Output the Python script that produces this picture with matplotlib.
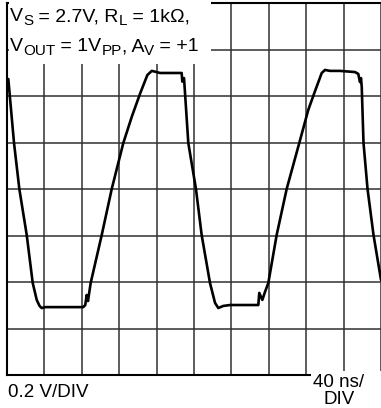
import matplotlib
matplotlib.use('Agg')
import matplotlib.pyplot as plt
from matplotlib.patches import Rectangle

plt.rcParams['font.family'] = ['Liberation Sans', 'DejaVu Sans']

# Trace de salida: tiempo (ns) y tension (V), 40 ns/DIV y 0.2 V/DIV
tiempo_ns = [1.4, 7.5, 13.2, 21.1, 27.5, 31.8, 34.8, 37.1, 40.6, 46.0,
             81.6, 83.7, 85.2, 86.6, 89.5, 101.3, 112.0, 124.4, 133.4, 142.2,
             150.1, 154.8, 160.1, 163.6, 186.8, 187.5, 189.3, 190.4, 193.9, 202.1,
             208.2, 217.1, 222.5, 226.0, 231.3, 238.5, 268.8, 269.8, 273.1, 275.9,
             279.5, 288.4, 299.1, 312.6, 322.2, 328.7, 336.6, 340.1, 345.5, 356.1,
             372.2, 375.7, 377.5, 378.6, 379.4, 381.3, 385.6, 392.0, 400.0]
tension_v = [0.473, 0.198, 0.000, -0.198, -0.404, -0.477, -0.503, -0.512, -0.508, -0.508,
             -0.508, -0.499, -0.456, -0.482, -0.404, -0.198, 0.000, 0.198, 0.310, 0.409,
             0.490, 0.508, 0.503, 0.499, 0.499, 0.462, 0.477, 0.413, 0.198, 0.000,
             -0.198, -0.404, -0.490, -0.512, -0.503, -0.499, -0.499, -0.447, -0.477, -0.443,
             -0.404, -0.198, 0.000, 0.198, 0.340, 0.413, 0.499, 0.512, 0.508, 0.508,
             0.503, 0.495, 0.460, 0.477, 0.439, 0.198, 0.000, -0.198, -0.391]

divisiones_x = [0, 40, 80, 120, 160, 200, 240, 280, 320, 360, 400]
divisiones_y = [-0.8, -0.6, -0.4, -0.2, 0.0, 0.2, 0.4, 0.6, 0.8]

# condiciones de prueba: (texto, es_subindice)
linea_1 = [('V', False), ('S', True), (' = 2.7V, R', False), ('L', True), (' = 1k\u03a9,', False)]
linea_2 = [('V', False), ('OUT', True), (' = 1V', False), ('PP', True), (', A', False),
           ('V', True), (' = +1', False)]

W, H = 381, 408
fig = plt.figure(figsize=(W / 100, H / 100), dpi=100)
ax = fig.add_axes([7 / W, (H - 375) / H, (W - 7) / W, 372 / H])

ax.plot(tiempo_ns, tension_v, color='black', linewidth=1.9,
        solid_joinstyle='round', solid_capstyle='round', zorder=2)

ax.set_xlim(0, 400)
ax.set_ylim(-0.8, 0.8)
ax.set_xticks(divisiones_x)
ax.set_yticks(divisiones_y)
ax.tick_params(length=0, labelbottom=False, labelleft=False)
ax.grid(True, color='#303030', linewidth=1.1)
ax.set_axisbelow(True)
for lado in ['left', 'bottom', 'top']:
    ax.spines[lado].set_linewidth(1.5)
    ax.spines[lado].set_color('black')
ax.spines['right'].set_visible(False)


def px(x, y):
    # pixeles desde arriba a la izquierda -> fraccion de figura
    return x / W, (H - y) / H


# fondos blancos de los textos
ax.add_patch(Rectangle(px(8.5, 64), 202 / W, 64 / H, transform=fig.transFigure,
                       facecolor='white', edgecolor='none', clip_on=False, zorder=3))
ax.add_patch(Rectangle(px(311, 408), 70 / W, 37 / H, transform=fig.transFigure,
                       facecolor='white', edgecolor='none', clip_on=False, zorder=3))

renderer = fig.canvas.get_renderer()


def escribir(x, y, partes, tam=14, tam_sub=11, baja=4):
    # texto con subindices, pieza a pieza
    for texto, sub in partes:
        yy = y + baja if sub else y
        t = fig.text(*px(x, yy), texto, fontsize=tam_sub if sub else tam,
                     va='baseline', ha='left')
        x += t.get_window_extent(renderer).width


escribir(10, 21, linea_1)
escribir(10, 51, linea_2)

tam = 13.5
fig.text(*px(8, 397), '0.2 V/DIV', fontsize=tam, va='baseline', ha='left')
fig.text(*px(339, 387), '40 ns/', fontsize=tam, va='baseline', ha='center')
fig.text(*px(339, 403.5), 'DIV', fontsize=tam, va='baseline', ha='center')

fig.savefig('out.png', dpi=100)
